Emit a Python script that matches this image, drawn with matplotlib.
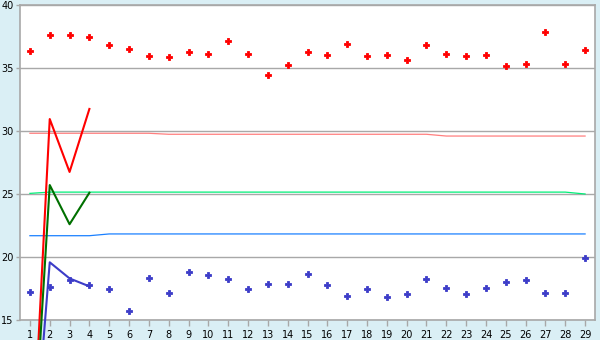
import matplotlib
matplotlib.use("Agg")
import matplotlib.pyplot as plt

x_points = list(range(1, 30))
red_points = [36.33, 37.6, 37.6, 37.43, 36.8, 36.48, 35.93, 35.85, 36.24, 36.09,
              37.12, 36.09, 34.42, 35.21, 36.24, 36.0, 36.88, 35.93, 36.0, 35.6,
              36.8, 36.09, 35.93, 36.0, 35.13, 35.29, 37.83, 35.29, 36.4]
blue_points = [17.2, 17.6, 18.2, 17.78, 17.44, 15.69, 18.31, 17.12, 18.79, 18.55,
               18.23, 17.44, 17.83, 17.83, 18.63, 17.75, 16.88, 17.44, 16.8, 17.04,
               18.23, 17.52, 17.04, 17.52, 17.99, 18.15, 17.12, 17.12, 19.9]

x_short = [1, 2, 3, 4]
red_line = [0, 30.95, 26.75, 31.75]
green_line = [0, 25.71, 22.6, 25.1]
blue_line = [0, 19.58, 18.3, 17.67]

pink_level = [29.82]*7 + [29.74]*14 + [29.6]*8
spring_level = [25.05] + [25.15]*27 + [25.0]
azure_level = [21.69]*4 + [21.83]*25

xticks = list(range(1, 30))
yticks = [15, 20, 25, 30, 35, 40]

bg = "#daeff5"
grid = "#a8a8a8"

fig = plt.figure(figsize=(6.0, 3.4), dpi=100, facecolor=bg)
ax = fig.add_axes([20/600, 1-320/340, 575/600, 315/340])
ax.set_facecolor("white")
ax.set_xlim(0.5, 29.5)
ax.set_ylim(15, 40)

for y in yticks:
    ax.axhline(y, color=grid, lw=1.0, zorder=1)

ax.plot(x_points, pink_level, color="#ff7f7f", lw=0.9, zorder=2)
ax.plot(x_points, spring_level, color="#00ee77", lw=0.9, zorder=2)
ax.plot(x_points, azure_level, color="#1a80ff", lw=0.9, zorder=2)

ax.plot(x_points, red_points, linestyle="none", marker="P", ms=5, mew=0.6,
        color="#ff0000", mec="#ff0000", zorder=3)
ax.plot(x_points, blue_points, linestyle="none", marker="P", ms=5, mew=0.6,
        color="#3c3cc8", mec="#3c3cc8", zorder=3)

ax.plot(x_short, red_line, color="#ff0000", lw=1.5, clip_on=False, zorder=5)
ax.plot(x_short, green_line, color="#007000", lw=1.5, clip_on=False, zorder=5)
ax.plot(x_short, blue_line, color="#3c3cc8", lw=1.5, clip_on=False, zorder=5)

ax.set_xticks(xticks)
ax.set_xticklabels([str(v) for v in xticks])
ax.set_yticks(yticks)
ax.set_yticklabels([str(v) for v in yticks])
ax.tick_params(axis="both", colors="black", labelsize=7, width=1, direction="out")
ax.tick_params(axis="y", length=3, pad=1.5)
ax.tick_params(axis="x", length=4, pad=3)
ax.tick_params(axis="both", color=grid)
for s in ax.spines.values():
    s.set_color(grid)
    s.set_linewidth(1.2)

fig.savefig("out.png", dpi=100, facecolor=bg)
